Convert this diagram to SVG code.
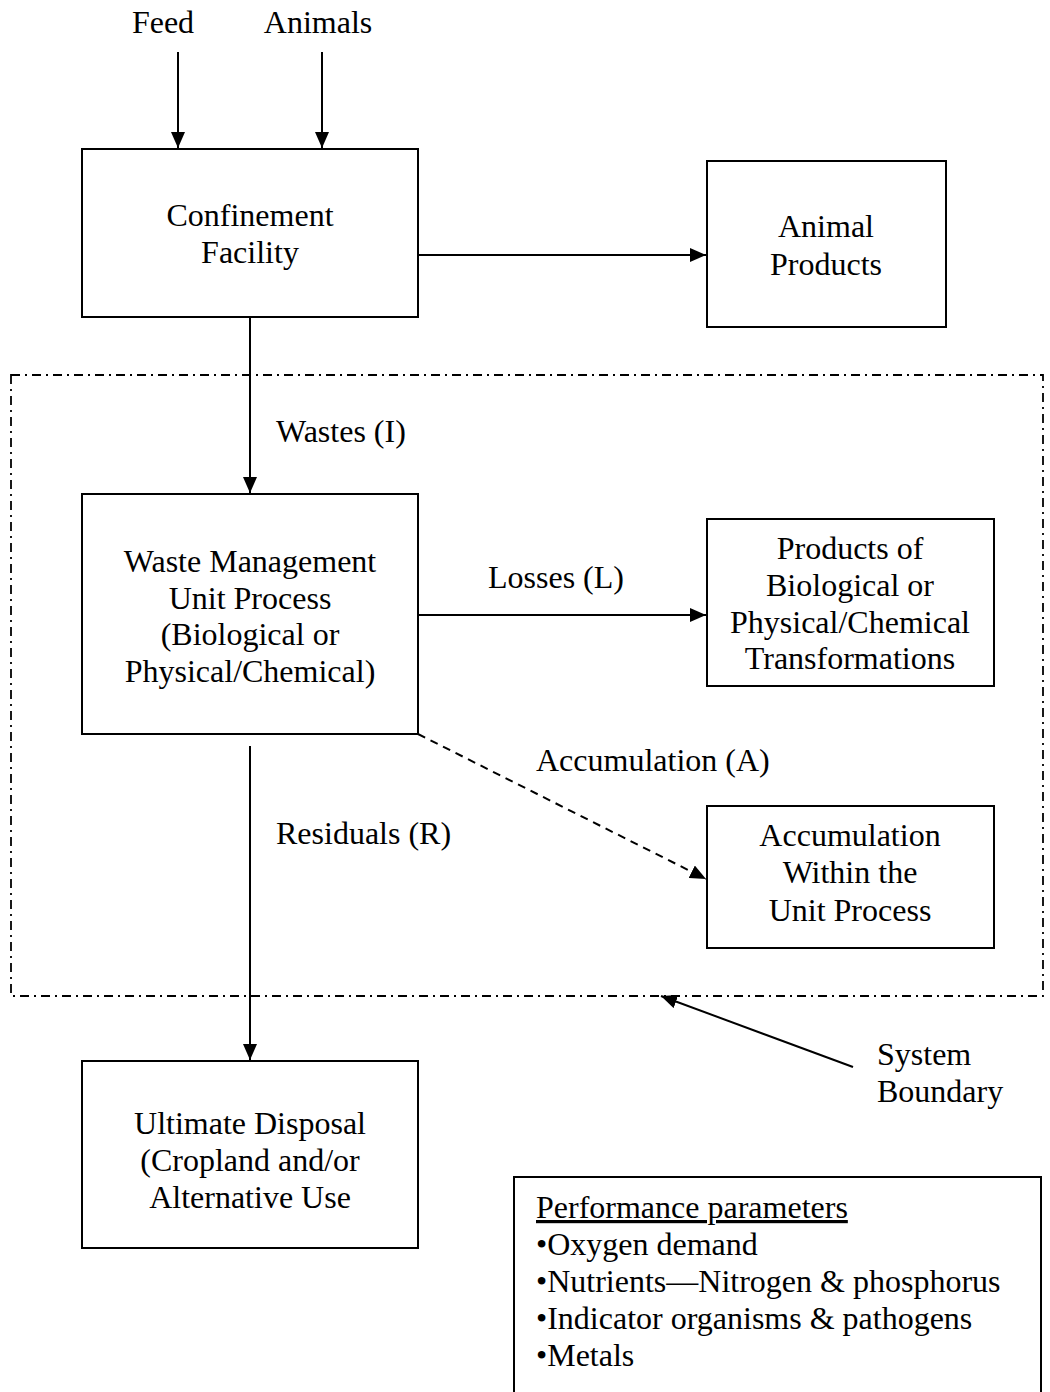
<svg xmlns="http://www.w3.org/2000/svg" width="1050" height="1392" viewBox="0 0 1050 1392">
<style>
text{font-family:"Liberation Serif","Times New Roman",serif;font-size:32px;fill:#000}
.c{text-anchor:middle}
.box{fill:#fff;stroke:#000;stroke-width:2}
.ln{stroke:#000;stroke-width:2;fill:none}
</style>
<defs>
<marker id="ah" viewBox="0 0 16 14" refX="16" refY="7" markerWidth="16" markerHeight="14" markerUnits="userSpaceOnUse" orient="auto">
<path d="M0,0 L16,7 L0,14 Z" fill="#000"/>
</marker>
</defs>
<rect width="1050" height="1392" fill="#fff"/>
<g id="boundary">
<rect x="11" y="375" width="1032" height="621" fill="none" stroke="#000" stroke-width="1.8" stroke-dasharray="9 5 2 5"/>
</g>
<g id="connectors">
<line class="ln" x1="178" y1="52" x2="178" y2="148" marker-end="url(#ah)"/>
<line class="ln" x1="322" y1="52" x2="322" y2="148" marker-end="url(#ah)"/>
<line class="ln" x1="418" y1="255" x2="706" y2="255" marker-end="url(#ah)"/>
<line class="ln" x1="250" y1="317" x2="250" y2="493" marker-end="url(#ah)"/>
<line class="ln" x1="418" y1="615" x2="706" y2="615" marker-end="url(#ah)"/>
<line class="ln" x1="418" y1="734" x2="706" y2="879" stroke-dasharray="8 6" marker-end="url(#ah)"/>
<line class="ln" x1="250" y1="746" x2="250" y2="1060" marker-end="url(#ah)"/>
<line class="ln" x1="853" y1="1067" x2="661" y2="996" marker-end="url(#ah)"/>
</g>
<g id="feed"><text class="c" x="163" y="33">Feed</text></g>
<g id="animals"><text class="c" x="318" y="33">Animals</text></g>
<g id="confinement">
<rect class="box" x="82" y="149" width="336" height="168"/>
<text class="c" x="250" y="226">Confinement</text>
<text class="c" x="250" y="263">Facility</text>
</g>
<g id="animal-products">
<rect class="box" x="707" y="161" width="239" height="166"/>
<text class="c" x="826" y="237">Animal</text>
<text class="c" x="826" y="275">Products</text>
</g>
<g id="waste-mgmt">
<rect class="box" x="82" y="494" width="336" height="240"/>
<text class="c" x="250" y="572">Waste Management</text>
<text class="c" x="250" y="609">Unit Process</text>
<text class="c" x="250" y="645">(Biological or</text>
<text class="c" x="250" y="682">Physical/Chemical)</text>
</g>
<g id="products-transf">
<rect class="box" x="707" y="519" width="287" height="167"/>
<text class="c" x="850" y="559">Products of</text>
<text class="c" x="850" y="596">Biological or</text>
<text class="c" x="850" y="633">Physical/Chemical</text>
<text class="c" x="850" y="669">Transformations</text>
</g>
<g id="accumulation">
<rect class="box" x="707" y="806" width="287" height="142"/>
<text class="c" x="850" y="846">Accumulation</text>
<text class="c" x="850" y="883">Within the</text>
<text class="c" x="850" y="921">Unit Process</text>
</g>
<g id="disposal">
<rect class="box" x="82" y="1061" width="336" height="187"/>
<text class="c" x="250" y="1134">Ultimate Disposal</text>
<text class="c" x="250" y="1171">(Cropland and/or</text>
<text class="c" x="250" y="1208">Alternative Use</text>
</g>
<g id="labels">
<text x="276" y="442">Wastes (I)</text>
<text x="488" y="588">Losses (L)</text>
<text x="536" y="771">Accumulation (A)</text>
<text x="276" y="844">Residuals (R)</text>
<text x="877" y="1065">System</text>
<text x="877" y="1102">Boundary</text>
</g>
<g id="performance">
<rect class="box" x="514" y="1177" width="527" height="230"/>
<text x="536" y="1218" text-decoration="underline">Performance parameters</text>
<text x="536" y="1255">•Oxygen demand</text>
<text x="536" y="1292">•Nutrients—Nitrogen &amp; phosphorus</text>
<text x="536" y="1329">•Indicator organisms &amp; pathogens</text>
<text x="536" y="1366">•Metals</text>
</g>
</svg>
